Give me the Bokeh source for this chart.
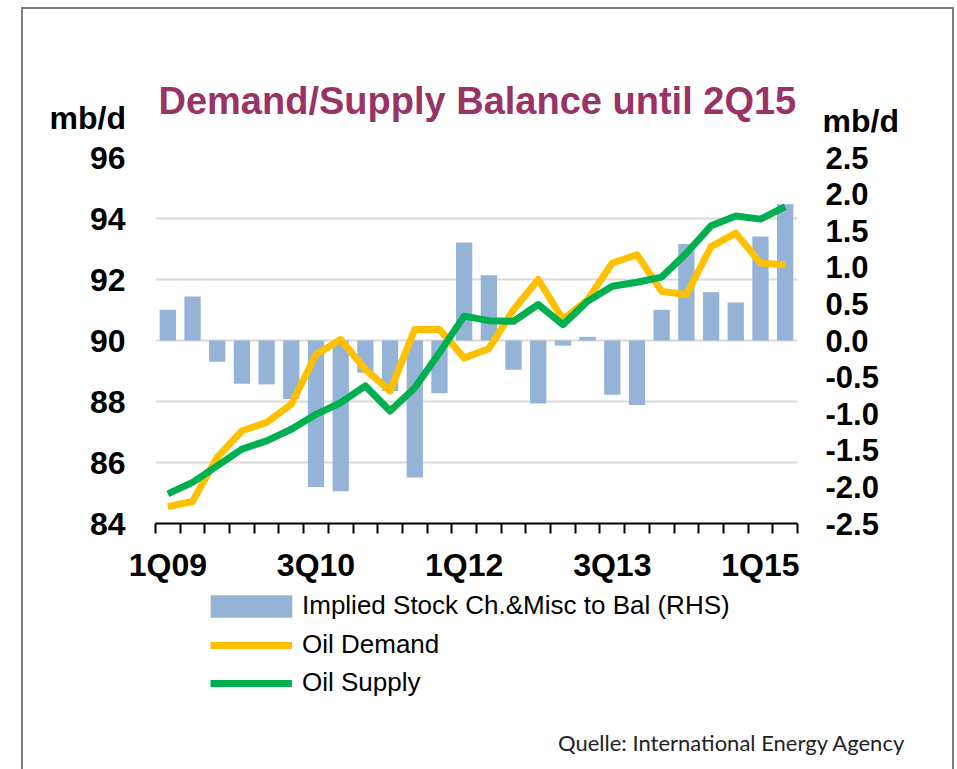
from bokeh.plotting import figure
from bokeh.models import (Range1d, LinearAxis, FixedTicker, NumeralTickFormatter,
                          Label, Legend, LegendItem, ColumnDataSource, InlineStyleSheet)
from bokeh.embed import file_html
from bokeh.resources import INLINE

# ---------------- data ----------------
quarters = ["1Q09", "2Q09", "3Q09", "4Q09",
            "1Q10", "2Q10", "3Q10", "4Q10",
            "1Q11", "2Q11", "3Q11", "4Q11",
            "1Q12", "2Q12", "3Q12", "4Q12",
            "1Q13", "2Q13", "3Q13", "4Q13",
            "1Q14", "2Q14", "3Q14", "4Q14",
            "1Q15", "2Q15"]

stock_change = [0.42, 0.60, -0.29, -0.59, -0.60, -0.80, -2.00, -2.06,
                -0.44, -0.69, -1.87, -0.72, 1.34, 0.89, -0.40, -0.86,
                -0.07, 0.05, -0.74, -0.88, 0.42, 1.32, 0.66, 0.52,
                1.42, 1.86]

oil_demand = [84.55, 84.72, 86.17, 87.04, 87.31, 87.91, 89.54, 90.03,
              89.05, 88.34, 90.36, 90.36, 89.43, 89.73, 91.01, 92.00,
              90.69, 91.34, 92.54, 92.81, 91.61, 91.50, 93.08, 93.52,
              92.54, 92.48]

oil_supply = [84.97, 85.35, 85.89, 86.44, 86.71, 87.09, 87.58, 87.96,
              88.51, 87.69, 88.45, 89.60, 90.80, 90.65, 90.63, 91.18,
              90.52, 91.29, 91.78, 91.91, 92.08, 92.86, 93.76, 94.08,
              93.98, 94.39]

tick_labels = ["1Q09", "3Q10", "1Q12", "3Q13", "1Q15"]
left_ticks = [84, 86, 88, 90, 92, 94, 96]
right_ticks = [-2.5, -2.0, -1.5, -1.0, -0.5, 0.0, 0.5, 1.0, 1.5, 2.0, 2.5]

title_text = "Demand/Supply Balance until 2Q15"
unit_text = "mb/d"
source_text = "Quelle: International Energy Agency"
legend_labels = ["Implied Stock Ch.&Misc to Bal (RHS)", "Oil Demand", "Oil Supply"]

# ---------------- styles ----------------
FONT = "Liberation Sans"
BAR_COLOR = "#95B3D7"
DEMAND_COLOR = "#FFC000"
SUPPLY_COLOR = "#00B050"
TITLE_COLOR = "#993366"
W = 957
TOP_H = 140          # header strip (title, units)
MAIN_H = 445         # chart with axes
BOT_H = 769 - TOP_H - MAIN_H   # legend + source strip


def frame_css(top, height, sides, seam=None):
    """Outer grey picture border, drawn piecewise on each strip."""
    borders = "".join(f"border-{s}: 2px solid #7f7f7f;" for s in sides)
    seam_css = ""
    if seam:
        seam_css = f"""
:host::before {{
  content: ""; position: absolute; left: 0; {seam}: 0;
  width: 155px; height: 3px; background: white; z-index: 5; pointer-events: none;
}}"""
    return InlineStyleSheet(css=f"""
:host {{ position: relative; }}
:host::after {{
  content: ""; position: absolute; left: 21px; top: {top}px;
  width: 933px; height: {height}px; box-sizing: border-box;
  {borders} pointer-events: none; z-index: 6;
}}""" + seam_css)


def blank(h, y0):
    """A figure whose frame is its whole canvas, with canvas-like coordinates."""
    f = figure(width=W, height=h, x_range=Range1d(0, W), y_range=Range1d(y0 + h, y0),
               output_backend="svg", toolbar_location=None,
               x_axis_type=None, y_axis_type=None,
               min_border=0, min_border_left=0, min_border_right=0,
               min_border_top=0, min_border_bottom=0)
    f.outline_line_color = None
    f.xgrid.visible = False
    f.ygrid.visible = False
    f.background_fill_color = "white"
    f.border_fill_color = "white"
    return f


# ---------------- header ----------------
top = blank(TOP_H, 0)
top.add_layout(Label(x=158, y=100, text=title_text, text_font=FONT,
                     text_font_style="bold", text_font_size="38px",
                     text_color=TITLE_COLOR, text_baseline="middle"))
top.add_layout(Label(x=49, y=117, text=unit_text, text_font=FONT,
                     text_font_style="bold", text_font_size="32px",
                     text_color="black", text_baseline="middle"))
top.add_layout(Label(x=822, y=120, text=unit_text, text_font=FONT,
                     text_font_style="bold", text_font_size="32px",
                     text_color="black", text_baseline="middle"))
top.stylesheets = [frame_css(7, TOP_H - 7, ["top", "left", "right"])]

# ---------------- main chart ----------------
idx = list(range(len(quarters)))
src = ColumnDataSource(dict(x=idx, q=quarters, stock=stock_change,
                            demand=oil_demand, supply=oil_supply))

p = figure(width=W, height=MAIN_H,
           x_range=Range1d(-0.5, len(quarters) - 0.5),
           y_range=Range1d(left_ticks[0], left_ticks[-1]),
           output_backend="svg", toolbar_location=None,
           min_border_left=155, min_border_right=160,
           min_border_top=17, min_border_bottom=62)
p.outline_line_color = None
p.background_fill_color = "white"
p.border_fill_color = "white"
p.extra_y_ranges = {"right": Range1d(right_ticks[0], right_ticks[-1])}

p.xgrid.visible = False
p.ygrid.ticker = FixedTicker(ticks=left_ticks)
p.ygrid.grid_line_color = "#D9D9D9"
p.ygrid.grid_line_width = 2

xa = p.xaxis[0]
xa.ticker = FixedTicker(ticks=[quarters.index(t) for t in tick_labels],
                        minor_ticks=[i - 0.5 for i in range(len(quarters) + 1)])
xa.major_label_overrides = {quarters.index(t): t for t in tick_labels}
xa.major_tick_line_color = None
xa.major_tick_out = 0
xa.major_tick_in = 0
xa.minor_tick_out = 10
xa.minor_tick_in = 0
xa.minor_tick_line_color = "black"
xa.minor_tick_line_width = 2
xa.axis_line_color = "black"
xa.axis_line_width = 2
xa.major_label_standoff = 13
xa.major_label_text_font = FONT
xa.major_label_text_font_style = "bold"
xa.major_label_text_font_size = "32px"
xa.major_label_text_color = "black"

ya = p.yaxis[0]
ya.ticker = FixedTicker(ticks=left_ticks)
ya.axis_line_color = None
ya.major_tick_line_color = None
ya.minor_tick_line_color = None
ya.major_tick_out = 0
ya.major_tick_in = 0
ya.major_label_standoff = 30
ya.major_label_text_font = FONT
ya.major_label_text_font_style = "bold"
ya.major_label_text_font_size = "32px"
ya.major_label_text_color = "black"

ra = LinearAxis(y_range_name="right", ticker=FixedTicker(ticks=right_ticks),
                formatter=NumeralTickFormatter(format="0.0"))
ra.axis_line_color = None
ra.major_tick_line_color = None
ra.minor_tick_line_color = None
ra.major_tick_out = 0
ra.major_tick_in = 0
ra.major_label_standoff = 28
ra.major_label_text_font = FONT
ra.major_label_text_font_style = "bold"
ra.major_label_text_font_size = "31px"
ra.major_label_text_color = "black"
p.add_layout(ra, "right")

p.vbar(x="x", top="stock", bottom=0, width=0.66, source=src,
       y_range_name="right", fill_color=BAR_COLOR, line_color=None)
p.line(x="x", y="demand", source=src, line_color=DEMAND_COLOR,
       line_width=7, line_join="round")
p.line(x="x", y="supply", source=src, line_color=SUPPLY_COLOR,
       line_width=7, line_join="round")
p.stylesheets = [frame_css(0, MAIN_H, ["left", "right"], seam="bottom")]

# ---------------- legend + source strip ----------------
y0 = TOP_H + MAIN_H
bot = blank(BOT_H, y0)
# legend-only renderers: same series, they fall outside this strip's ranges
lg_bar = bot.vbar(x="x", top="stock", bottom=0, width=0.66, source=src,
                  fill_color=BAR_COLOR, line_color=None)
lg_dem = bot.line(x="x", y="demand", source=src, line_color=DEMAND_COLOR, line_width=7)
lg_sup = bot.line(x="x", y="supply", source=src, line_color=SUPPLY_COLOR, line_width=7)

common = dict(padding=0, margin=0, border_line_color=None,
              background_fill_alpha=0, label_text_font=FONT,
              label_text_font_size="26px", label_text_color="black",
              glyph_height=28, label_height=28)
# locations: screen px from the strip's bottom-left corner
leg1 = Legend(items=[LegendItem(label=legend_labels[0], renderers=[lg_bar])],
              location=(200, 148), glyph_width=102, label_standoff=0, **common)
leg2 = Legend(items=[LegendItem(label=legend_labels[1], renderers=[lg_dem]),
                     LegendItem(label=legend_labels[2], renderers=[lg_sup])],
              location=(210, 71), glyph_width=82, label_standoff=10,
              spacing=7, **common)
bot.add_layout(leg1)
bot.add_layout(leg2)
bot.add_layout(Label(x=905, y=742, text=source_text, text_font="Lato",
                     text_font_size="22px", text_color="#222222",
                     text_align="right", text_baseline="middle"))
bot.stylesheets = [frame_css(0, BOT_H, ["left", "right"], seam="top")]

open("out.html", "w").write(file_html([top, p, bot], INLINE))
